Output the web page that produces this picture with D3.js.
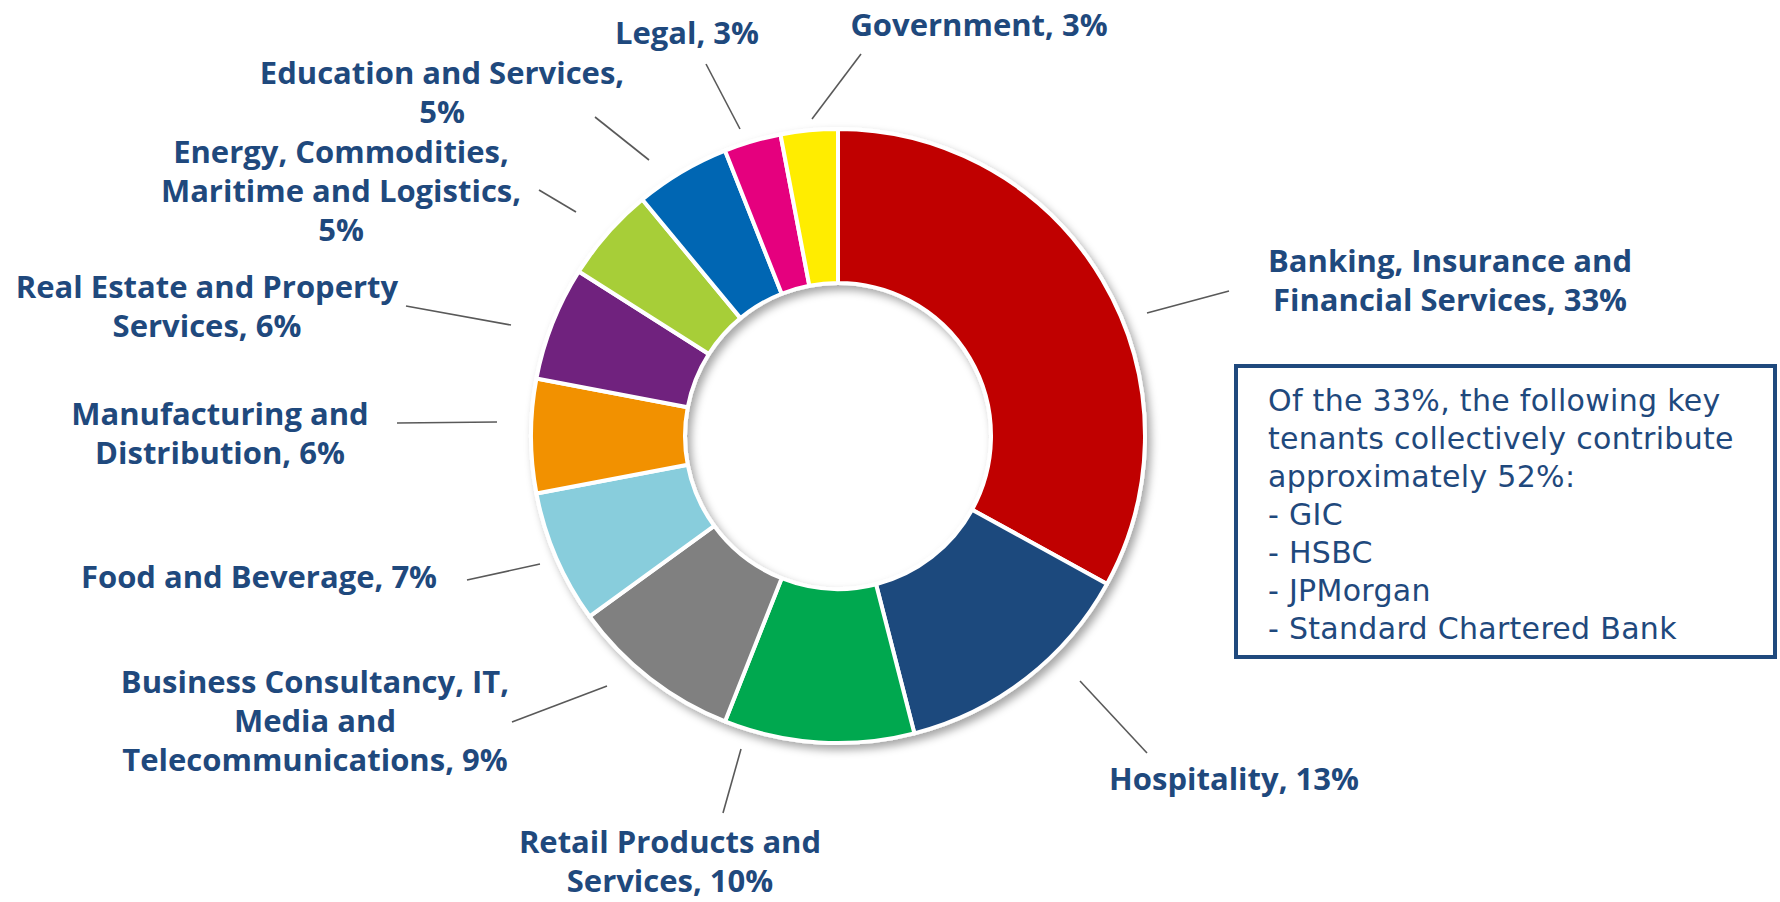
<!DOCTYPE html>
<html>
<head>
<meta charset="utf-8">
<script src="https://cdn.jsdelivr.net/npm/d3@7"></script>
<style>
  body { margin: 0; background: #fff; }
  svg { display: block; }
  .lbl { font-family: "Open Sans", "DejaVu Sans", sans-serif; font-weight: 700; fill: #1F497D; }
  .note { font-family: "DejaVu Sans", "Open Sans", sans-serif; font-weight: 400; fill: #1F497D; }
</style>
</head>
<body>
<div class="main"></div>
<script>
// sector shares, clockwise from 12 o'clock
let sectors = [
  'Banking, Insurance and Financial Services',
  'Hospitality',
  'Retail Products and Services',
  'Business Consultancy, IT, Media and Telecommunications',
  'Food and Beverage',
  'Manufacturing and Distribution',
  'Real Estate and Property Services',
  'Energy, Commodities, Maritime and Logistics',
  'Education and Services',
  'Legal',
  'Government'
];
let shares = [33, 13, 10, 9, 7, 6, 6, 5, 5, 3, 3];
let sectorColors = ['#C00000', '#1F497D', '#00A84F', '#808080', '#88CDDC', '#F29100',
                    '#70207E', '#A7CE39', '#0066B3', '#E5007E', '#FFED00'];

// how each label wraps (text lines)
let labelLines = [
  ['Banking, Insurance and', 'Financial Services, 33%'],
  ['Hospitality, 13%'],
  ['Retail Products and', 'Services, 10%'],
  ['Business Consultancy, IT,', 'Media and', 'Telecommunications, 9%'],
  ['Food and Beverage, 7%'],
  ['Manufacturing and', 'Distribution, 6%'],
  ['Real Estate and Property', 'Services, 6%'],
  ['Energy, Commodities,', 'Maritime and Logistics,', '5%'],
  ['Education and Services,', '5%'],
  ['Legal, 3%'],
  ['Government, 3%']
];

let noteLines = [
  'Of the 33%, the following key',
  'tenants collectively contribute',
  'approximately 52%:',
  '- GIC',
  '- HSBC',
  '- JPMorgan',
  '- Standard Chartered Bank'
];

// layout: label anchor (centre of first line) and leader line ends
let labelPos = [
  [1450, 261], [1234, 779], [670, 842], [315, 682], [259, 577], [220, 414],
  [207, 287], [341, 152], [442, 73], [687, 33], [979, 25]
];
let leaders = [
  [[1147, 313], [1229, 291]],
  [[1080, 681], [1147, 753]],
  [[741, 749], [723, 813]],
  [[607, 686], [512, 722]],
  [[540, 564], [467, 580]],
  [[497, 422], [397, 423]],
  [[511, 325], [406, 306]],
  [[576, 212], [539, 190]],
  [[649, 160], [595, 117]],
  [[740, 129], [706, 64]],
  [[812, 119], [861, 54]]
];

let opts = {
  width: 1780,
  height: 902,
  cx: 838,
  cy: 436,
  outer: 307,
  inner: 153,
  lineGap: 39
};

let svg = d3.select('.main').append('svg')
  .attr('width', opts.width)
  .attr('height', opts.height);

let defs = svg.append('defs');
let shadow = defs.append('filter').attr('id', 'shadow')
  .attr('x', '-20%').attr('y', '-20%').attr('width', '140%').attr('height', '140%');
shadow.append('feDropShadow')
  .attr('dx', 4).attr('dy', 5).attr('stdDeviation', 4)
  .attr('flood-color', '#000').attr('flood-opacity', 0.35);

let pieData = d3.pie().sort(null).value(d => d)(shares);

let arc = d3.arc().innerRadius(opts.inner).outerRadius(opts.outer);

let color = d3.scaleOrdinal().domain(d3.range(shares.length)).range(sectorColors);

let ring = svg.append('g')
  .attr('transform', `translate(${opts.cx},${opts.cy})`)
  .attr('filter', 'url(#shadow)');

ring.selectAll('path.slice')
  .data(pieData)
  .enter().append('path')
  .attr('class', 'slice')
  .attr('d', arc)
  .attr('fill', (d, i) => color(i))
  .attr('stroke', '#fff')
  .attr('stroke-width', 4)
  .attr('stroke-linejoin', 'round');

// leader lines
svg.selectAll('line.leader')
  .data(leaders)
  .enter().append('line')
  .attr('class', 'leader')
  .attr('x1', d => d[0][0]).attr('y1', d => d[0][1])
  .attr('x2', d => d[1][0]).attr('y2', d => d[1][1])
  .attr('stroke', '#595959')
  .attr('stroke-width', 1.6);

// labels
let labels = svg.selectAll('text.lbl')
  .data(labelLines)
  .enter().append('text')
  .attr('class', 'lbl')
  .attr('text-anchor', 'middle')
  .attr('font-size', 31)
  .attr('x', (d, i) => labelPos[i][0])
  .attr('y', (d, i) => labelPos[i][1]);

labels.selectAll('tspan')
  .data((d, i) => d.map(t => ({ t: t, i: i })))
  .enter().append('tspan')
  .attr('x', d => labelPos[d.i][0])
  .attr('y', (d, j) => labelPos[d.i][1] + j * opts.lineGap)
  .attr('dy', '0.36em')
  .text(d => d.t);

// note box
let box = { x: 1236, y: 366, w: 539, h: 291 };
svg.append('rect')
  .attr('x', box.x).attr('y', box.y)
  .attr('width', box.w).attr('height', box.h)
  .attr('fill', '#fff')
  .attr('stroke', '#1F497D')
  .attr('stroke-width', 4);

svg.append('text')
  .attr('class', 'note')
  .attr('font-size', 30)
  .attr('letter-spacing', 0.3)
  .selectAll('tspan')
  .data(noteLines)
  .enter().append('tspan')
  .attr('x', 1268)
  .attr('y', (d, i) => 400 + i * 38)
  .attr('dy', '0.36em')
  .text(d => d);
</script>
</body>
</html>
